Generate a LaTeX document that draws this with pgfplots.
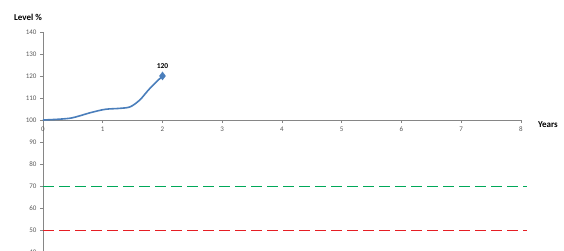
\documentclass[border=0pt]{standalone}
\usepackage{pgfplots}
\pgfplotsset{compat=1.18}
\usepackage{fontspec}
\setmainfont{Carlito}
\definecolor{axgray}{RGB}{134,134,134}
\definecolor{labgray}{RGB}{89,89,89}
\definecolor{lineblue}{RGB}{74,126,187}
\definecolor{dgreen}{RGB}{0,168,89}
\definecolor{dred}{RGB}{230,30,36}
\begin{document}
\begin{tikzpicture}
\begin{axis}[
  at={(0,0)}, anchor=south west,
  scale only axis, width=478pt, height=228.8pt,
  xmin=0, xmax=8, ymin=36, ymax=140,
  axis y line=left, axis x line=bottom, axis x line shift=-140.8pt,
  axis line style={axgray, line width=0.8pt, -},
  xtick={0,1,...,8}, ytick={40,50,...,140},
  tick style={axgray, line width=0.6pt}, major tick length=3pt,
  tick align=outside,
  xtick pos=left, ytick pos=left,
  ticklabel style={font=\fontsize{7}{8}\selectfont, text=labgray},
  /pgf/number format/assume math mode=true,
  clip=false,
]
\addplot[dgreen, line width=0.9pt, dash pattern=on 11pt off 5pt] coordinates {(0,70) (8.1,70)};
\addplot[dred, line width=0.9pt, dash pattern=on 11pt off 5pt] coordinates {(0,50) (8.1,50)};
\addplot[lineblue, line width=1.6pt, smooth, tension=0.5] coordinates {
 (0,100) (0.45,100.8) (0.79,103.3) (1.04,104.85) (1.29,105.3) (1.46,106) (1.62,109.1) (1.79,114.4) (2,120)};
\addplot[lineblue, only marks, mark=diamond*, mark size=4pt] coordinates {(2,120)};
\node[font=\bfseries\fontsize{7.5}{8}\selectfont, above=4pt] at (axis cs:2,120) {120};
\end{axis}
\node[font=\bfseries\fontsize{9}{10}\selectfont, anchor=center] at (-15pt,243.8pt) {Level \%};
\node[font=\bfseries\fontsize{9}{10}\selectfont, anchor=west, inner sep=0pt] at (495pt,135.8pt) {Years};
\pgfresetboundingbox
\useasboundingbox (-43pt,9.9pt) rectangle (521pt,260.8pt);
\end{tikzpicture}
\end{document}
